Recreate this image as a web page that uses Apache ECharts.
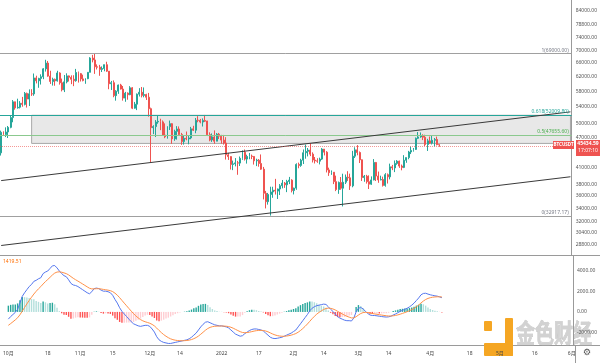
<!DOCTYPE html>
<html><head><meta charset="utf-8">
<script src="https://cdn.jsdelivr.net/npm/echarts@6/dist/echarts.min.js"></script>
<style>html,body{margin:0;padding:0;background:#fff}#c{width:600px;height:363px}</style>
</head><body><div id="c"></div>
<script>
// ---------------- data ----------------
const firstDay = '2021-10-01';
const dayCount = 244; // 2021-10-01 .. 2022-06-01 (visible time range)
const opens = [43820,48141,47634,48200,49224,51471,55315,53785,53955,54949,54660,57471,56006,57370,57347,61672,60875,61528,62005,64280,66001,62193,60688,61286,60852,63078,60328,58413,60575,62253,61859,
61300,60911,63220,62896,61396,60940,61470,63273,67525,66947,64883,64774,64122,64380,65519,63606,60058,60345,56891,58057,59707,58617,56247,57541,57138,58960,53723,54716,57274,57776,
56950,57184,56485,53601,49152,49397,50441,50588,50471,47535,47140,49389,50053,46702,48336,48864,47632,46133,46834,46681,46914,48887,48588,50838,50820,50428,50802,50679,47623,46490,47120,
46217,47722,47286,46446,45833,43431,43082,41561,41680,41864,41822,42735,43949,42592,43099,43177,43113,42250,42374,41744,40680,36445,35071,36244,36660,36958,36809,37160,37716,38166,37881,
38466,38694,36896,37310,41571,41383,42380,43840,44118,44379,43565,42407,42244,42197,42586,44578,43960,40539,40031,40118,38430,37075,38286,37296,38333,39214,39105,37699,
43160,44422,43892,42455,39148,39404,38420,37988,38731,41941,39422,38729,38807,37777,39671,39280,41114,40916,41757,42201,41262,41002,42365,42882,43991,44313,44511,46827,47123,47434,47067,
45511,46283,45810,46407,46580,45497];
const highs = [48495,48336,49228,49536,51886,55750,55332,56100,55490,56561,57839,57680,58532,58580,62933,62300,61720,62695,64486,67000,66639,63732,61747,61500,63710,63293,61496,62499,62980,62359,62405,
62437,64270,63500,63086,62599,61560,63286,67789,68524,69000,65600,65459,65000,65550,66401,63620,60840,60977,58320,59845,60029,59444,57875,57735,59398,59150,55280,57445,58865,59176,
59053,57375,57600,53859,49699,50891,51936,51200,50797,50125,49485,50777,50189,48700,49500,49436,47995,47392,48300,47537,49328,49576,51375,51810,51156,51280,52088,50704,48119,47879,48548,
47954,47990,47570,47557,47070,43817,43145,42300,42787,42248,43100,44322,44500,43448,43800,43478,43176,42664,42600,43505,41100,36835,36499,37550,37545,38919,37234,38000,38720,38359,38744,
39265,38855,37387,41772,41913,42656,44500,45492,44799,45821,43920,43000,42760,42876,44775,44578,44164,40959,40444,40145,39495,38450,39249,39843,39700,40300,39855,44225,
44949,45400,44101,42527,39613,39640,39547,39362,42594,42039,40236,39486,39310,39947,39887,41718,41478,42325,42400,42296,41544,43361,42893,44220,45094,44792,46999,48189,48096,47700,47600,
46720,47213,47444,46890,47200,45540];
const lows = [43283,47430,47088,46891,49022,50382,53357,53617,53661,54080,54415,53879,54257,56818,56850,60150,58963,59844,61322,63482,62000,60000,59562,59510,60650,59817,58000,57820,60174,60673,59945,
59405,60624,60382,60677,60721,60050,61322,63273,66222,62822,64100,62278,63360,63576,63400,58574,58373,56474,55600,57353,58486,55610,55317,55837,57000,53500,53610,53256,56666,56428,
56458,55777,51680,42000,47727,47100,50039,48600,47320,46852,46751,48638,45672,46290,46547,47511,45456,45500,46406,45558,46630,48421,47920,50384,50142,49412,50449,47313,46201,46060,45678,
46208,46654,45696,45502,42500,42430,40610,40501,41200,39650,41268,42450,42311,41725,42555,42581,41540,41250,41138,40553,35440,34008,34601,32917,35701,36234,35507,36155,37268,37351,36632,
38000,36586,36250,37026,40843,41116,41645,42666,43117,43174,41938,41748,41870,41570,42427,43308,40073,39450,39639,38000,36800,36350,37036,34322,38014,38556,37000,37450,
42809,43334,41832,38550,38407,38088,37155,37867,38657,38539,38223,38660,37578,37555,38098,38828,40500,40135,41499,40911,40467,40875,41878,42560,43579,44072,44421,46663,46950,46445,45200,
44200,45620,45530,45118,45353,45050];
const closes = [48141,47634,48200,49224,51471,55315,53785,53951,54949,54659,57471,56006,57367,57347,61672,60875,61528,62010,64280,66001,62193,60688,61286,60852,63078,60328,58413,60575,62253,61859,61300,
60911,63219,62896,61395,60937,61470,63273,67525,66947,64882,64774,64122,64380,65519,63606,60058,60345,56892,58052,59707,58623,56247,57541,57138,58960,53726,54722,57275,57776,56950,
57184,56481,53601,49152,49396,50441,50588,50471,47545,47140,49389,50053,46702,48343,48864,47632,46131,46834,46681,46914,48889,48588,50838,50821,50429,50809,50640,47588,46444,47140,46216,
47723,47286,46446,45833,43431,43082,41566,41680,41864,41822,42735,43949,42592,43099,43177,43113,42250,42375,41744,40680,36445,35071,36244,36660,36958,36809,37160,37716,38166,37881,38466,
38694,36896,37311,41574,41382,42380,43840,44118,44381,43565,42407,42244,42197,42586,44575,43961,40538,40031,40122,38431,37075,38286,37296,38332,39215,39105,37699,43160,
44421,43892,42455,39148,39397,38420,37988,38730,41941,39422,38729,38807,37777,39671,39280,41114,40917,41757,42201,41262,41002,42364,42882,43991,44313,44511,46827,47122,47434,47067,45510,
46283,45811,46407,46581,45497,45434.59];
const macdLine = [-700,-450,-250,-50,250,850,1500,1850,2150,2450,2650,2950,3050,3200,3300,3700,3850,3950,4200,4450,
4480,4250,3950,3700,3500,3400,3100,2750,2600,2550,2450,2300,2150,2000,1850,1750,1950,2250,2300,2250,
2100,2000,2000,1950,1850,1600,1200,850,400,50,-200,-450,-700,-950,-1150,-1250,-1350,-1400,-1350,-1300,
-1300,-1400,-1650,-1950,-2400,-2700,-2850,-2950,-3000,-3050,-3050,-3000,-2950,-2900,-2850,-2800,-2750,-2700,-2600,-2450,
-2250,-2050,-1750,-1450,-1200,-1000,-950,-1050,-1150,-1250,-1300,-1350,-1350,-1400,-1450,-1550,-1750,-1950,-2150,-2250,
-2350,-2300,-2100,-1950,-1800,-1700,-1650,-1650,-1700,-1750,-1850,-2050,-2250,-2450,-2550,-2580,-2550,-2500,-2450,-2350,
-2250,-2150,-2050,-1900,-1750,-1450,-1150,-850,-550,-250,100,350,500,600,650,700,750,720,500,250,
50,-200,-450,-600,-700,-800,-850,-850,-880,-600,0,350,420,300,50,-150,-300,-350,-350,-380,
-420,-450,-480,-500,-480,-420,-300,-200,-80,50,150,250,350,480,650,850,1100,1350,1650,1780,
1800,1720,1650,1600,1550,1520,1450,1370];
const signalLine = [-1300,-1130,-954,-773,-568,-284,73,428,772,1108,1416,1723,1988,2230,2444,2695,2926,3131,3345,3566,
3749,3849,3869,3835,3768,3694,3575,3410,3248,3108,2976,2841,2703,2562,2420,2286,2219,2225,2240,2242,
2214,2171,2137,2100,2050,1960,1808,1616,1373,1108,846,587,330,74,-171,-387,-580,-744,-865,-952,
-1022,-1098,-1208,-1356,-1565,-1792,-2004,-2193,-2354,-2493,-2604,-2683,-2736,-2769,-2785,-2788,-2780,-2764,-2731,-2675,
-2590,-2482,-2336,-2159,-1967,-1774,-1609,-1497,-1428,-1392,-1374,-1369,-1365,-1372,-1388,-1420,-1486,-1579,-1693,-1804,
-1913,-1990,-2012,-2000,-1960,-1908,-1856,-1815,-1792,-1784,-1797,-1848,-1928,-2032,-2136,-2225,-2290,-2332,-2356,-2355,
-2334,-2297,-2248,-2178,-2092,-1964,-1801,-1611,-1399,-1169,-915,-662,-430,-224,-49,101,231,329,363,340,
282,186,59,-73,-198,-318,-424,-509,-583,-586,-469,-305,-160,-68,-44,-65,-112,-160,-198,-234,
-271,-307,-342,-374,-395,-400,-380,-344,-291,-223,-148,-68,16,109,217,344,495,666,863,1046,
1197,1302,1372,1418,1444,1459,1457,1440];
const priceTicks = [84000,78800,74000,70000,66000,62000,58000,54000,50000,47000,41000,38000,36000,34000,32000,30400,28800];
const macdTicks = [-2000,0,2000,4000];
const timeLabels = {'2021-10-01':'10月','2021-10-18':'18','2021-11-01':'11月','2021-11-15':'15','2021-12-01':'12月','2021-12-14':'14',
  '2022-01-01':'2022','2022-01-17':'17','2022-02-01':'2月','2022-02-14':'14','2022-03-01':'3月','2022-03-14':'14',
  '2022-04-01':'4月','2022-04-18':'18','2022-05-01':'5月','2022-05-16':'16','2022-06-01':'6月'};
const fibNames = ['1','0.618','0.5','0'];
const fibValues = [69000.00, 52009.80, 47655.60, 32917.17];
const upperTrend = [['2021-10-01', 38613], ['2022-06-01', 52832]];
const lowerTrend = [['2021-10-01', 28719], ['2022-06-01', 39295]];
const zoneBox = [['2021-10-14', 52009.8], ['2022-06-01', 45750]];
const symbolName = 'BTCUSDT';
const lastPrice = 45434.59;
const countdown = '17:07:10';
const macdHeader = '1419.51';
const priceRange = [27500, 88000];
const macdRange = [-3200, 5400];

// ---------------- build ----------------
const L = Math.log;
const categories = [];
(function(){ const d = new Date(firstDay + 'T00:00:00Z');
  for (let i = 0; i < dayCount; i++) { categories.push(d.toISOString().slice(0,10)); d.setUTCDate(d.getUTCDate()+1); } })();
const candleData = closes.map((c, i) => [L(opens[i]), L(c), L(lows[i]), L(highs[i])]);
const hist = macdLine.map((m, i) => m - signalLine[i]);
const histData = hist.map((h, i) => {
  const p = i > 0 ? hist[i-1] : h;
  const col = h >= 0 ? (h >= p ? '#26a69a' : '#b2dfdb') : (h <= p ? '#ff5252' : '#ffcdd2');
  return { value: h, itemStyle: { color: col } };
});
const fibColors = ['#a0a0a0', '#26a69a', '#8bc98e', '#a0a0a0'];
const fibText = ['#787b86', '#26a69a', '#4caf50', '#787b86'];
const FONT = "'Noto Sans', 'Noto Sans CJK SC', sans-serif";

const markLines = [];
fibValues.forEach((v, i) => markLines.push({
  yAxis: L(v), lineStyle: { color: fibColors[i], width: 1, type: 'solid' },
  label: { show: true, position: 'insideEndTop', formatter: fibNames[i] + '(' + v.toFixed(2) + ')',
           color: fibText[i], fontSize: 5, distance: [3, 1], fontFamily: FONT }
}));
[upperTrend, lowerTrend].forEach(t => markLines.push([
  { coord: [t[0][0], L(t[0][1])], lineStyle: { color: '#3a3a3a', width: 1, type: 'solid' }, label: { show: false } },
  { coord: [t[1][0], L(t[1][1])] }
]));
markLines.push({
  yAxis: L(lastPrice), lineStyle: { color: '#ef5350', width: 1, type: 'dotted', opacity: 0.6 },
  label: { show: false }
});

const chart = echarts.init(document.getElementById('c'), null, { renderer: 'canvas' });
const baseGraphics = [
  { id: 'sep1', type: 'line', shape: { x1: 0, y1: 255.5, x2: 600, y2: 255.5 }, style: { stroke: '#9a9a9a', lineWidth: 1 }, silent: true },
  { id: 'sep2', type: 'line', shape: { x1: 0, y1: 345.5, x2: 600, y2: 345.5 }, style: { stroke: '#9a9a9a', lineWidth: 1 }, silent: true },
  { id: 'sep3', type: 'line', shape: { x1: 575.5, y1: 345, x2: 575.5, y2: 363 }, style: { stroke: '#9a9a9a', lineWidth: 1 }, silent: true },
  { id: 'mh', type: 'text', x: 3, y: 259, style: { text: macdHeader, fill: '#ff6d00', fontSize: 5, fontFamily: FONT }, silent: true },
  { id: 'gear', type: 'text', x: 583, y: 348, style: { text: '⚙', fill: '#555', fontSize: 9, fontFamily: 'DejaVu Sans' }, silent: true },
  { id: 'wm', type: 'group', z: 100, silent: true, children: [
    { type: 'rect', shape: { x: 484, y: 321, width: 8, height: 10, r: 1 }, style: { fill: '#f5a623' } },
    { type: 'rect', shape: { x: 505, y: 318, width: 8, height: 38, r: 1 }, style: { fill: '#f5a623' } },
    { type: 'rect', shape: { x: 484, y: 343, width: 29, height: 13, r: 1 }, style: { fill: '#f5a623' } },
    { type: 'text', x: 516, y: 320, scaleY: 1.35,
      style: { text: '金色财经', fill: '#d2d2d2', stroke: '#b5b5b5', lineWidth: 0.4, fontSize: 19, fontWeight: 'bold', fontFamily: "'Noto Sans CJK SC'" } }
  ] }
];
chart.setOption({
  animation: false,
  backgroundColor: '#fff',
  textStyle: { fontFamily: FONT },
  grid: [
    { left: 0, right: 25, top: 0, height: 255 },
    { left: 0, right: 25, top: 256, height: 89 }
  ],
  xAxis: [
    { type: 'category', gridIndex: 0, data: categories, boundaryGap: true,
      axisLine: { show: false }, axisTick: { show: false }, axisLabel: { show: false }, splitLine: { show: false } },
    { type: 'category', gridIndex: 1, data: categories, boundaryGap: true,
      axisLine: { show: false }, axisTick: { show: false }, splitLine: { show: false },
      axisLabel: { show: true, interval: (idx, val) => timeLabels[val] !== undefined,
                   formatter: v => timeLabels[v] || '', fontSize: 5, color: '#444', margin: 6, fontFamily: FONT } }
  ],
  yAxis: [
    { type: 'value', gridIndex: 0, position: 'right', min: L(priceRange[0]), max: L(priceRange[1]),
      splitLine: { show: false }, axisTick: { show: false },
      axisLine: { show: true, lineStyle: { color: '#9a9a9a' } },
      axisLabel: { customValues: priceTicks.map(L), formatter: v => Math.exp(v).toFixed(2),
                   fontSize: 5, color: '#555', margin: 4, fontFamily: FONT } },
    { type: 'value', gridIndex: 1, position: 'right', min: macdRange[0], max: macdRange[1],
      splitLine: { show: false }, axisTick: { show: false },
      axisLine: { show: true, lineStyle: { color: '#9a9a9a' } },
      axisLabel: { customValues: macdTicks, formatter: v => v.toFixed(2),
                   fontSize: 5, color: '#555', margin: 4, fontFamily: FONT } }
  ],
  series: [
    { type: 'candlestick', xAxisIndex: 0, yAxisIndex: 0, data: candleData, barWidth: '62%',
      itemStyle: { color: '#26a69a', color0: '#ef5350', borderColor: '#26a69a', borderColor0: '#ef5350', borderWidth: 1 },
      markArea: { silent: true,
        data: [[ { coord: [zoneBox[0][0], L(zoneBox[0][1])],
                   itemStyle: { color: 'rgba(150,150,150,0.22)', borderColor: '#a8a8a8', borderWidth: 1 } },
                 { coord: [zoneBox[1][0], L(zoneBox[1][1])] } ]] },
      markLine: { silent: true, symbol: ['none', 'none'], animation: false, data: markLines }
    },
    { type: 'bar', xAxisIndex: 1, yAxisIndex: 1, data: histData, barWidth: '60%' },
    { type: 'line', xAxisIndex: 1, yAxisIndex: 1, data: macdLine, showSymbol: false, symbol: 'none',
      lineStyle: { color: '#5577ee', width: 1 } },
    { type: 'line', xAxisIndex: 1, yAxisIndex: 1, data: signalLine, showSymbol: false, symbol: 'none',
      lineStyle: { color: '#ff9148', width: 1 } }
  ],
  graphic: baseGraphics
});

// price tags placed through the price scale
const py = chart.convertToPixel({ yAxisIndex: 0 }, L(lastPrice));
const gridRight = 575;
chart.setOption({ graphic: baseGraphics.concat([
  { id: 'symRect', type: 'rect', z: 50, silent: true, shape: { x: gridRight - 22, y: Math.round(py) - 4, width: 21, height: 8 }, style: { fill: '#ef5350' } },
  { id: 'symText', type: 'text', z: 51, silent: true, x: gridRight - 11.5, y: Math.round(py),
    style: { text: symbolName, fill: '#fff', fontSize: 4.5, fontWeight: 'bold', fontFamily: FONT, align: 'center', verticalAlign: 'middle' } },
  { id: 'pxRect', type: 'rect', z: 50, silent: true, shape: { x: gridRight + 1, y: Math.round(py) - 5, width: 24, height: 16 }, style: { fill: '#ef5350' } },
  { id: 'pxText', type: 'text', z: 51, silent: true, x: gridRight + 13, y: Math.round(py) - 1,
    style: { text: lastPrice.toFixed(2), fill: '#fff', fontSize: 5, fontWeight: 'bold', fontFamily: FONT, align: 'center', verticalAlign: 'middle' } },
  { id: 'cdText', type: 'text', z: 51, silent: true, x: gridRight + 13, y: Math.round(py) + 6,
    style: { text: countdown, fill: '#fff', fontSize: 5, fontFamily: FONT, align: 'center', verticalAlign: 'middle' } }
]) });
</script>
</body></html>
